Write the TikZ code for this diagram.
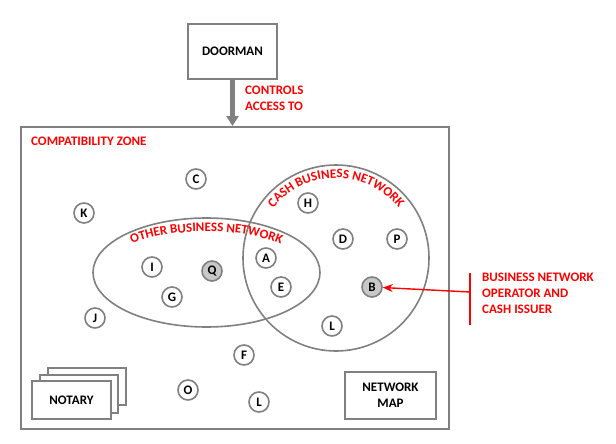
\documentclass[tikz,border=0pt]{standalone}
\usepackage{fontspec}
\setmainfont{Carlito}
\usetikzlibrary{arrows.meta,decorations.text}
\definecolor{lg}{HTML}{808080}
\definecolor{fillg}{HTML}{C8C8C8}
\definecolor{rd}{HTML}{FF0000}
\begin{document}
\begin{tikzpicture}[x=1pt,y=1pt,
  lbl/.style={font=\bfseries\fontsize{13}{16}\selectfont},
  rlbl/.style={lbl,text=rd,align=left,inner sep=0pt},
  boxn/.style={draw=lg,line width=1.8pt,fill=white,lbl,align=center},
  party/.style={circle,draw=lg,line width=1.6pt,fill=white,minimum size=20pt,inner sep=0pt,font=\bfseries\fontsize{13}{13}\selectfont},
  hl/.style={party,fill=fillg},
  net/.style={draw=lg,line width=1.6pt}]
\useasboundingbox (0,0) rectangle (616,-444);
% zone
\node[draw=lg,line width=1.8pt,minimum width=428pt,minimum height=302pt,inner sep=0pt,anchor=north west] (zone) at (20,-126) {};
\node[rlbl,anchor=west] (zlab) at (31,-141) {COMPATIBILITY ZONE};
% doorman
\node[boxn,minimum width=89pt,minimum height=55pt,inner sep=0pt] (door) at (232.5,-51.5) {DOORMAN};
\coordinate (ztop) at (232.5,-126);
\draw[lg,line width=4.5pt,-{Triangle[width=12pt,length=10pt]}] (door.south) -- (ztop);
\node[rlbl,anchor=north west] (ctl) at (245,-86) {CONTROLS\\ACCESS TO};
% networks
\draw[net] (336,-258) circle[radius=93];
\draw[net] (206.5,-272.5) ellipse[x radius=113.5,y radius=54.5];
\path[decorate,decoration={text along path,text align=center,
  text={|\color{rd}\bfseries\fontsize{13}{13}\selectfont|CASH BUSINESS NETWORK}}]
  (336,-258) ++(146:80) arc[start angle=146,end angle=34,radius=80];
\path[decorate,decoration={text along path,text align=center,
  text={|\color{rd}\bfseries\fontsize{13}{13}\selectfont|OTHER BUSINESS NETWORK}}]
  (206.5,-272.5) ++(150:104 and 41) arc[start angle=150,end angle=30,x radius=104,y radius=41];
% parties
\node[party] (C) at (196,-179) {C};
\node[party] (K) at (84,-213) {K};
\node[party] (H) at (308,-203) {H};
\node[party] (D) at (343,-239) {D};
\node[party] (P) at (397,-239) {P};
\node[party] (I) at (152,-267) {I};
\node[hl] (Q) at (212,-271) {Q};
\node[party] (A) at (266,-258) {A};
\node[party] (E) at (281,-287) {E};
\node[party] (G) at (172,-297) {G};
\node[hl] (B) at (372,-287) {B};
\node[party] (J) at (95,-318) {J};
\node[party] (L1) at (332,-326) {L};
\node[party] (F) at (244,-355) {F};
\node[party] (O) at (188,-390) {O};
\node[party] (L2) at (259,-402) {L};
% notary stack
\node[boxn,minimum width=78pt,minimum height=37pt] (n3) at (87,-386.5) {};
\node[boxn,minimum width=78pt,minimum height=38pt] (n2) at (79,-394) {};
\node[boxn,minimum width=79pt,minimum height=38pt] (notary) at (71.5,-400) {NOTARY};
% network map
\node[boxn,minimum width=91pt,minimum height=47pt,inner sep=0pt] (map) at (390.5,-395.5) {NETWORK\\MAP};
% operator annotation
\coordinate (bt) at (470,-273);
\coordinate (bb) at (470,-325);
\coordinate (bm) at (470,-292);
\draw[rd,line width=1.6pt] (bt) -- (bb);
\draw[rd,line width=1.4pt,-{Stealth[length=10pt,width=8pt]}] (bm) -- (B);
\node[rlbl,anchor=north west] (op) at (482,-273) {BUSINESS NETWORK\\OPERATOR AND\\CASH ISSUER};
\end{tikzpicture}
\end{document}
